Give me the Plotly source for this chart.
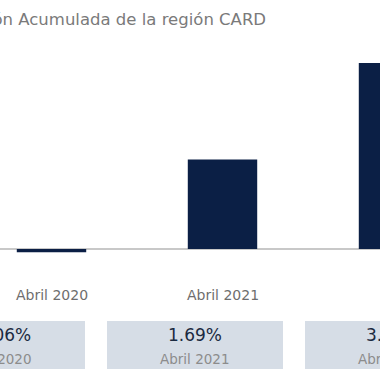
import plotly.graph_objects as go

title = "Inflación Acumulada de la región CARD"
categories = ["Abril 2020", "Abril 2021", "Abril 2022"]
values = [-0.06, 1.69, 3.51]

W = H = 380
FONT = "DejaVu Sans"
BAR = "#0b1f45"
BOX = "#d6dde6"

def px_x(p):
    return p / W

def px_y(p):
    return 1 - p / H

def fmt(v):
    return f"{v:.2f}%".replace("-", "\u2212")

fig = go.Figure(go.Bar(x=categories, y=values, marker_color=BAR,
                       marker_line_width=0, hoverinfo="skip"))

# scale: 1 category step = 171px, bars centred at 51.5px
span_x = W / 171.0
x0 = -51.5 / 171.0
# y: 0 at 249px from top, 1.69 -> 89px
upx = 89.5 / 1.69
ymin = -(H - 249) / upx
ymax = ymin + H / upx

fig.update_layout(
    width=W, height=H, margin=dict(l=0, r=0, t=0, b=0),
    plot_bgcolor="white", paper_bgcolor="white",
    bargap=0.594, showlegend=False,
    font=dict(family=FONT),
    xaxis=dict(range=[x0, x0 + span_x], showticklabels=False, showgrid=False,
               zeroline=False, fixedrange=True),
    yaxis=dict(range=[ymin, ymax], showticklabels=False, showgrid=False,
               zeroline=True, zerolinecolor="#c8c8c8", zerolinewidth=2,
               fixedrange=True),
)

annotations = [dict(text=title, xref="paper", yref="paper", x=px_x(268), y=px_y(19),
                    xanchor="right", yanchor="middle", showarrow=False,
                    font=dict(size=16.5, color="#7a7a7a", family=FONT))]

for c in categories:
    annotations.append(dict(text=c, xref="x", yref="paper", x=c, y=px_y(295),
                            xanchor="center", yanchor="middle", showarrow=False,
                            font=dict(size=14, color="#6e6e6e", family=FONT)))

shapes = []
for i, (c, v) in enumerate(zip(categories, values)):
    cx = -3 + 198 * i
    shapes.append(dict(type="rect", xref="paper", yref="paper",
                       x0=px_x(cx - 88), x1=px_x(cx + 88),
                       y0=px_y(369), y1=px_y(321),
                       fillcolor=BOX, line_width=0, layer="below"))
    annotations.append(dict(text=fmt(v), xref="paper", yref="paper",
                            x=px_x(cx), y=px_y(335), xanchor="center", yanchor="middle",
                            showarrow=False,
                            font=dict(size=17, color="#1b2a41", family=FONT)))
    annotations.append(dict(text=c, xref="paper", yref="paper",
                            x=px_x(cx), y=px_y(358.5), xanchor="center", yanchor="middle",
                            showarrow=False,
                            font=dict(size=13.5, color="#8c8c8c", family=FONT)))

fig.update_layout(annotations=annotations, shapes=shapes)
fig.write_html("out.html", config={"displayModeBar": False},
               post_script="document.body.style.margin='0';document.body.style.overflow='hidden';")
